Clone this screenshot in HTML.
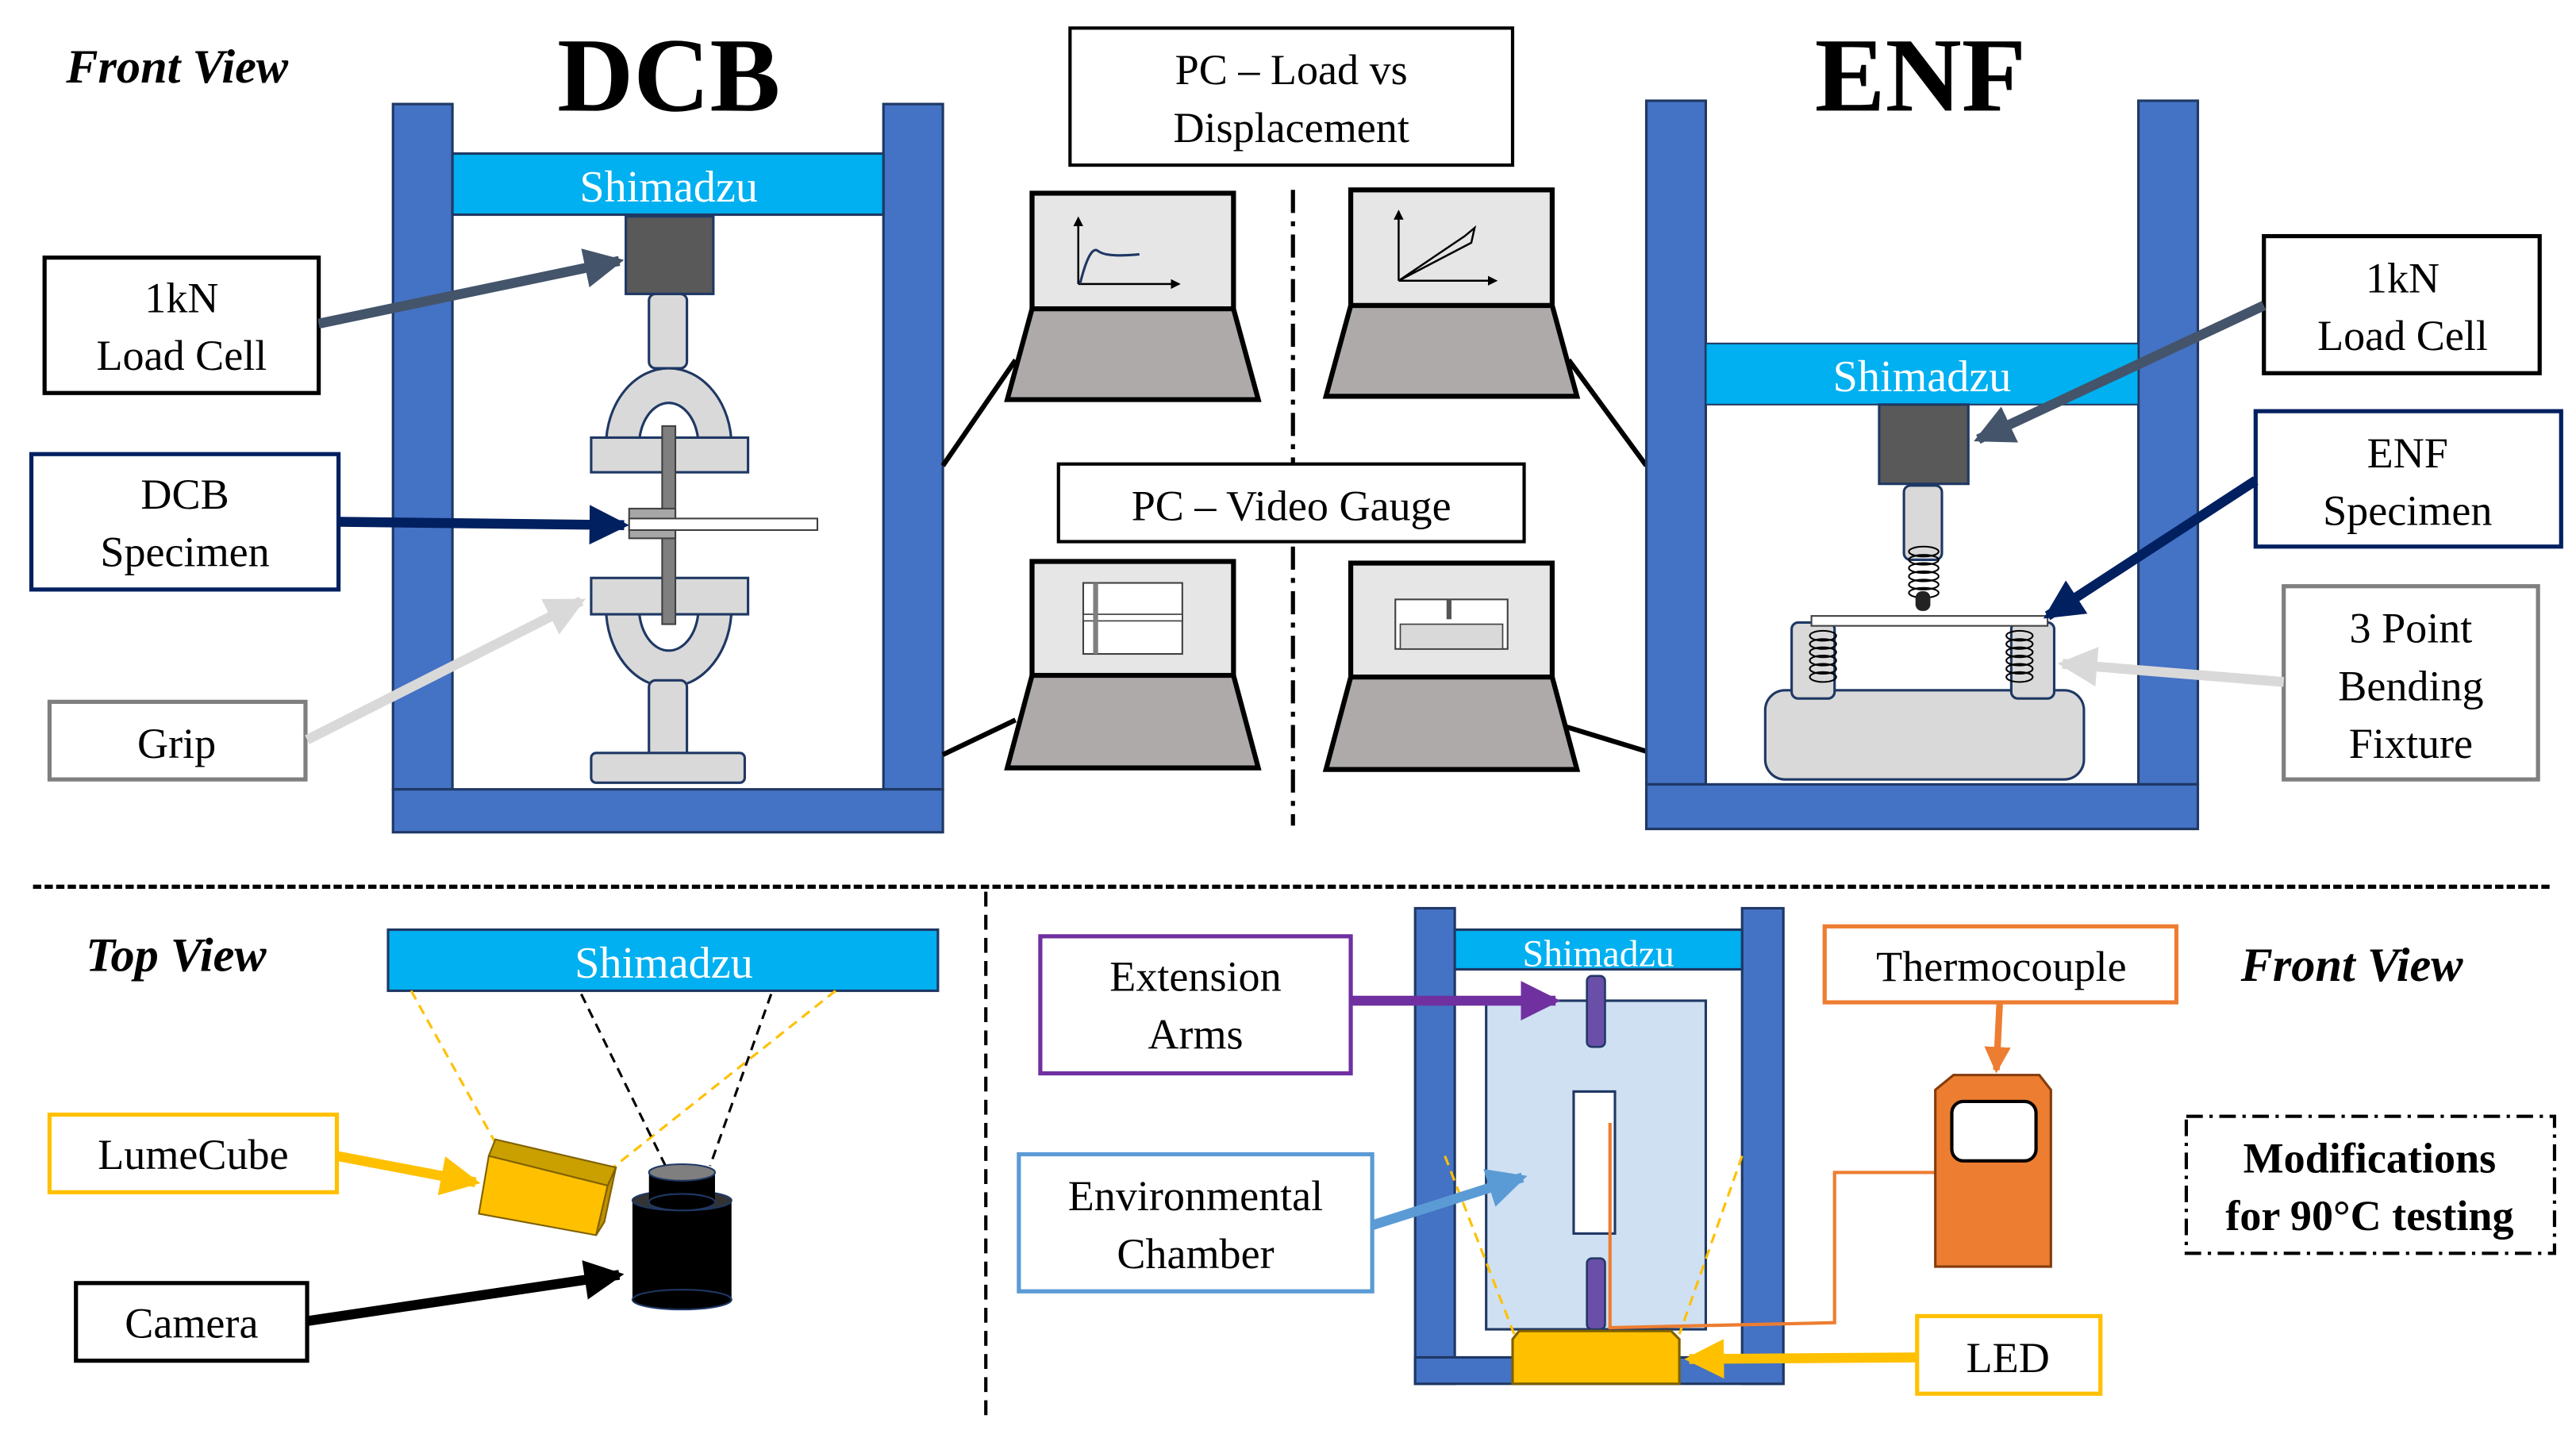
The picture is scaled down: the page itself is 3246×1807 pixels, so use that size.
<!DOCTYPE html>
<html><head><meta charset="utf-8"><style>
html,body{margin:0;padding:0;background:#fff;}
svg{display:block;}
text{font-family:"Liberation Serif",serif;}
</style></head><body>
<svg width="3246" height="1807" viewBox="0 0 1560 868.4" preserveAspectRatio="none" xmlns="http://www.w3.org/2000/svg">
<defs>
<marker id="aS" markerWidth="4" markerHeight="4" refX="3.5" refY="2" orient="auto" markerUnits="strokeWidth"><path d="M0,0L4,2L0,4z" fill="#44546A"/></marker>
<marker id="aN" markerWidth="4" markerHeight="4" refX="3.5" refY="2" orient="auto" markerUnits="strokeWidth"><path d="M0,0L4,2L0,4z" fill="#002060"/></marker>
<marker id="aG" markerWidth="4" markerHeight="4" refX="3.5" refY="2" orient="auto" markerUnits="strokeWidth"><path d="M0,0L4,2L0,4z" fill="#D9D9D9"/></marker>
<marker id="aY" markerWidth="4" markerHeight="4" refX="3.5" refY="2" orient="auto" markerUnits="strokeWidth"><path d="M0,0L4,2L0,4z" fill="#FFC000"/></marker>
<marker id="aK" markerWidth="4" markerHeight="4" refX="3.5" refY="2" orient="auto" markerUnits="strokeWidth"><path d="M0,0L4,2L0,4z" fill="#000"/></marker>
<marker id="aP" markerWidth="4" markerHeight="4" refX="3.5" refY="2" orient="auto" markerUnits="strokeWidth"><path d="M0,0L4,2L0,4z" fill="#7030A0"/></marker>
<marker id="aB" markerWidth="4" markerHeight="4" refX="3.5" refY="2" orient="auto" markerUnits="strokeWidth"><path d="M0,0L4,2L0,4z" fill="#5B9BD5"/></marker>
<marker id="aO" markerWidth="4" markerHeight="4" refX="3.5" refY="2" orient="auto" markerUnits="strokeWidth"><path d="M0,0L4,2L0,4z" fill="#ED7D31"/></marker>
<marker id="sm" markerWidth="6" markerHeight="6" refX="5" refY="3" orient="auto" markerUnits="userSpaceOnUse"><path d="M0,0L6,3L0,6z" fill="#000"/></marker>
</defs>

<text x="40" y="50" font-size="29" font-weight="bold" font-style="italic">Front View</text>
<text x="405" y="67" font-size="64" font-weight="bold" text-anchor="middle">DCB</text>
<text x="1163" y="67" font-size="64" font-weight="bold" text-anchor="middle">ENF</text>

<g fill="#4472C4" stroke="#1F3864" stroke-width="1.5">
<rect x="238" y="63" width="36" height="415"/>
<rect x="535" y="63" width="36" height="415"/>
<rect x="238" y="478" width="333" height="26"/>
</g>
<rect x="274" y="93" width="261" height="37" fill="#00B0F0" stroke="#1F3864" stroke-width="1.5"/>
<text x="405" y="122" font-size="27" fill="#fff" text-anchor="middle">Shimadzu</text>
<rect x="379" y="131" width="53" height="47" fill="#595959" stroke="#1F3864" stroke-width="1.5"/>
<g fill="#D9D9D9" stroke="#1F3864" stroke-width="1.5">
<rect x="393" y="178" width="23" height="45" rx="4"/>
<path d="M367,270 A38,47 0 0 1 443,270 L423,270 A18,26 0 0 0 387,270 Z"/>
<rect x="358" y="265" width="95" height="21"/>
<path d="M367,368 A38,48 0 0 0 443,368 L423,368 A18,26 0 0 1 387,368 Z"/>
<rect x="358" y="350" width="95" height="22"/>
<rect x="393" y="412" width="23" height="56" rx="4"/>
<rect x="358" y="456" width="93" height="18" rx="3"/>
</g>
<rect x="401" y="258" width="8" height="120" fill="#7F7F7F" stroke="#404040" stroke-width="1"/>
<rect x="381" y="308" width="28" height="18" fill="#A6A6A6" stroke="#404040" stroke-width="1"/>
<rect x="381" y="314" width="114" height="7" fill="#fff" stroke="#404040" stroke-width="1"/>

<g fill="#fff" stroke-width="2.5">
<rect x="27" y="156" width="166" height="82" stroke="#000"/>
<rect x="19" y="275" width="186" height="82" stroke="#002060"/>
<rect x="30" y="425" width="155" height="47" stroke="#7F7F7F"/>
</g>
<g font-size="26" text-anchor="middle">
<text x="110" y="189">1kN</text><text x="110" y="224">Load Cell</text>
<text x="112" y="308">DCB</text><text x="112" y="343">Specimen</text>
<text x="107" y="459">Grip</text>
</g>
<line x1="193" y1="196" x2="375" y2="158" stroke="#44546A" stroke-width="6" marker-end="url(#aS)"/>
<line x1="205" y1="316" x2="378" y2="318" stroke="#002060" stroke-width="6" marker-end="url(#aN)"/>
<line x1="186" y1="448" x2="352" y2="364" stroke="#D9D9D9" stroke-width="6" marker-end="url(#aG)"/>

<rect x="648" y="17" width="268" height="83" fill="#fff" stroke="#000" stroke-width="2"/>
<text x="782" y="51" font-size="26" text-anchor="middle">PC – Load vs</text>
<text x="782" y="86" font-size="26" text-anchor="middle">Displacement</text>
<line x1="783" y1="115" x2="783" y2="500" stroke="#000" stroke-width="2.5" stroke-dasharray="14,5,3,5"/>
<rect x="641" y="281" width="282" height="47" fill="#fff" stroke="#000" stroke-width="2"/>
<text x="782" y="315" font-size="26" text-anchor="middle">PC – Video Gauge</text>

<g stroke="#000" stroke-width="3">
<line x1="615" y1="218" x2="571" y2="282"/>
<line x1="615" y1="436" x2="571" y2="457"/>
<line x1="950" y1="218" x2="997" y2="282"/>
<line x1="948" y1="440" x2="997" y2="455"/>
<rect x="625" y="117" width="122" height="70" fill="#E7E6E6"/>
<path d="M625,187 L747,187 L762,242 L610,242 Z" fill="#AEAAAA"/>
<rect x="818" y="115" width="122" height="70" fill="#E7E6E6"/>
<path d="M818,185 L940,185 L955,240 L803,240 Z" fill="#AEAAAA"/>
<rect x="625" y="340" width="122" height="69" fill="#E7E6E6"/>
<path d="M625,409 L747,409 L762,465 L610,465 Z" fill="#AEAAAA"/>
<rect x="818" y="341" width="122" height="69" fill="#E7E6E6"/>
<path d="M818,410 L940,410 L955,466 L803,466 Z" fill="#AEAAAA"/>
</g>
<g stroke="#000" stroke-width="1.2" fill="none">
<line x1="653" y1="172" x2="653" y2="132" marker-end="url(#sm)"/>
<line x1="653" y1="172" x2="714" y2="172" marker-end="url(#sm)"/>
<line x1="847" y1="170" x2="847" y2="128" marker-end="url(#sm)"/>
<line x1="847" y1="170" x2="906" y2="170" marker-end="url(#sm)"/>
<path d="M847,170 L887,143 L893,138 L891,147 Z"/>
</g>
<path d="M654,172 Q660,148 665,152 Q670,156 690,154" stroke="#1F3864" stroke-width="1.5" fill="none"/>
<rect x="656" y="353" width="60" height="43" fill="#fff" stroke="#404040" stroke-width="1"/>
<rect x="656" y="372" width="60" height="4" fill="#fff" stroke="#404040" stroke-width="0.8"/>
<rect x="662" y="353" width="3" height="43" fill="#7F7F7F"/>
<rect x="845" y="363" width="68" height="30" fill="#fff" stroke="#404040" stroke-width="1"/>
<rect x="848" y="378" width="62" height="15" fill="#D9D9D9" stroke="#404040" stroke-width="0.8"/>
<rect x="876" y="363" width="3" height="12" fill="#555"/>

<g fill="#4472C4" stroke="#1F3864" stroke-width="1.5">
<rect x="997" y="61" width="36" height="414"/>
<rect x="1295" y="61" width="36" height="414"/>
<rect x="997" y="475" width="334" height="27"/>
</g>
<rect x="1033" y="208" width="262" height="37" fill="#00B0F0" stroke="#1F3864" stroke-width="1"/>
<text x="1164" y="237" font-size="27" fill="#fff" text-anchor="middle">Shimadzu</text>
<rect x="1138" y="245" width="54" height="48" fill="#595959" stroke="#1F3864" stroke-width="1.5"/>
<rect x="1153" y="294" width="23" height="45" rx="4" fill="#D9D9D9" stroke="#1F3864" stroke-width="1.5"/>
<g fill="none" stroke="#000" stroke-width="1">
<ellipse cx="1165" cy="334" rx="9" ry="3"/><ellipse cx="1165" cy="339" rx="9" ry="3"/><ellipse cx="1165" cy="344" rx="9" ry="3"/><ellipse cx="1165" cy="349" rx="9" ry="3"/><ellipse cx="1165" cy="354" rx="9" ry="3"/><ellipse cx="1165" cy="359" rx="9" ry="3"/>
</g>
<rect x="1160" y="358" width="9" height="12" rx="4" fill="#222"/>
<rect x="1069" y="418" width="193" height="54" rx="12" fill="#D9D9D9" stroke="#1F3864" stroke-width="1.5"/>
<rect x="1085" y="377" width="26" height="46" rx="4" fill="#D9D9D9" stroke="#1F3864" stroke-width="1.5"/>
<rect x="1218" y="377" width="26" height="46" rx="4" fill="#D9D9D9" stroke="#1F3864" stroke-width="1.5"/>
<rect x="1097" y="373" width="143" height="6" fill="#fff" stroke="#404040" stroke-width="1"/>
<g fill="none" stroke="#000" stroke-width="1">
<ellipse cx="1104" cy="385" rx="8" ry="3"/><ellipse cx="1104" cy="390" rx="8" ry="3"/><ellipse cx="1104" cy="395" rx="8" ry="3"/><ellipse cx="1104" cy="400" rx="8" ry="3"/><ellipse cx="1104" cy="405" rx="8" ry="3"/><ellipse cx="1104" cy="410" rx="8" ry="3"/>
<ellipse cx="1223" cy="385" rx="8" ry="3"/><ellipse cx="1223" cy="390" rx="8" ry="3"/><ellipse cx="1223" cy="395" rx="8" ry="3"/><ellipse cx="1223" cy="400" rx="8" ry="3"/><ellipse cx="1223" cy="405" rx="8" ry="3"/><ellipse cx="1223" cy="410" rx="8" ry="3"/>
</g>

<g fill="#fff" stroke-width="2.5">
<rect x="1371" y="143" width="167" height="83" stroke="#000"/>
<rect x="1366" y="249" width="185" height="82" stroke="#002060"/>
<rect x="1383" y="355" width="154" height="117" stroke="#7F7F7F"/>
</g>
<g font-size="26" text-anchor="middle">
<text x="1455" y="177">1kN</text><text x="1455" y="212">Load Cell</text>
<text x="1458" y="283">ENF</text><text x="1458" y="318">Specimen</text>
<text x="1460" y="389">3 Point</text><text x="1460" y="424">Bending</text><text x="1460" y="459">Fixture</text>
</g>
<line x1="1371" y1="185" x2="1198" y2="266" stroke="#44546A" stroke-width="6" marker-end="url(#aS)"/>
<line x1="1366" y1="291" x2="1240" y2="373" stroke="#002060" stroke-width="6" marker-end="url(#aN)"/>
<line x1="1383" y1="413" x2="1249" y2="402" stroke="#D9D9D9" stroke-width="6" marker-end="url(#aG)"/>

<line x1="20" y1="537" x2="1545" y2="537" stroke="#000" stroke-width="2.5" stroke-dasharray="5,2"/>
<line x1="597" y1="540" x2="597" y2="860" stroke="#000" stroke-width="2" stroke-dasharray="9,5"/>

<text x="52" y="588" font-size="29" font-weight="bold" font-style="italic">Top View</text>
<rect x="235" y="563" width="333" height="37" fill="#00B0F0" stroke="#1F3864" stroke-width="1.5"/>
<text x="402" y="592" font-size="27" fill="#fff" text-anchor="middle">Shimadzu</text>
<g stroke-width="1.5" fill="none" stroke-dasharray="6,4">
<line x1="249" y1="600" x2="300" y2="692" stroke="#FFC000"/>
<line x1="506" y1="600" x2="370" y2="708" stroke="#FFC000"/>
<line x1="352" y1="602" x2="403" y2="706" stroke="#000"/>
<line x1="467" y1="602" x2="430" y2="706" stroke="#000"/>
</g>
<path d="M300,690 L373,707 L368,718 L296,700 Z" fill="#C9A000" stroke="#7F6000" stroke-width="1"/>
<path d="M296,700 L368,718 L361,748 L290,735 Z" fill="#FFC000" stroke="#7F6000" stroke-width="1"/>
<path d="M368,718 L373,707 L366,740 L361,748 Z" fill="#BF9000" stroke="#7F6000" stroke-width="1"/>
<rect x="383" y="727" width="60" height="60" fill="#000"/>
<ellipse cx="413" cy="787" rx="30" ry="6" fill="#000" stroke="#1F3864"/>
<ellipse cx="413" cy="727" rx="30" ry="6" fill="#333" stroke="#1F3864"/>
<rect x="393" y="710" width="40" height="18" fill="#000"/>
<ellipse cx="413" cy="728" rx="20" ry="5" fill="#000" stroke="#1F3864"/>
<ellipse cx="413" cy="710" rx="20" ry="5" fill="#7F7F7F" stroke="#1F3864"/>
<g fill="#fff" stroke-width="2.5">
<rect x="30" y="675" width="174" height="47" stroke="#FFC000"/>
<rect x="46" y="777" width="140" height="47" stroke="#000"/>
</g>
<text x="117" y="708" font-size="26" text-anchor="middle">LumeCube</text>
<text x="116" y="810" font-size="26" text-anchor="middle">Camera</text>
<line x1="204" y1="700" x2="288" y2="716" stroke="#FFC000" stroke-width="6" marker-end="url(#aY)"/>
<line x1="186" y1="800" x2="375" y2="772" stroke="#000" stroke-width="6" marker-end="url(#aK)"/>

<g fill="#4472C4" stroke="#1F3864" stroke-width="1.5">
<rect x="857" y="550" width="24" height="288"/>
<rect x="1055" y="550" width="25" height="288"/>
<rect x="857" y="822" width="223" height="16"/>
</g>
<rect x="881" y="563" width="174" height="24" fill="#00B0F0" stroke="#1F3864" stroke-width="1.5"/>
<text x="968" y="585" font-size="23" fill="#fff" text-anchor="middle">Shimadzu</text>
<rect x="900" y="606" width="133" height="199" fill="#CFE0F2" stroke="#1F3864" stroke-width="1.5"/>
<rect x="953" y="661" width="25" height="86" fill="#fff" stroke="#1F3864" stroke-width="1.5"/>
<rect x="961" y="591" width="11" height="43" rx="3" fill="#6A4FA8" stroke="#1F3864" stroke-width="1.2"/>
<rect x="961" y="762" width="11" height="43" rx="3" fill="#6A4FA8" stroke="#1F3864" stroke-width="1.2"/>
<g stroke-width="1.5" fill="none" stroke="#FFC000" stroke-dasharray="6,4">
<line x1="875" y1="700" x2="917" y2="808"/>
<line x1="1055" y1="700" x2="1017" y2="808"/>
</g>
<path d="M920,806 L1012,806 L1017,811 L1017,838 L916,838 L916,811 Z" fill="#FFC000" stroke="#7F6000" stroke-width="1.5"/>
<path d="M975,680 L975,804 L1111,801 L1111,710 L1172,710" fill="none" stroke="#ED7D31" stroke-width="2"/>
<path d="M1183,651 L1235,651 L1242,660 L1242,767 L1172,767 L1172,660 Z" fill="#ED7D31" stroke="#843C0C" stroke-width="1.5"/>
<rect x="1182" y="667" width="51" height="36" rx="7" fill="#fff" stroke="#000" stroke-width="2"/>

<g fill="#fff" stroke-width="2.5">
<rect x="630" y="567" width="188" height="83" stroke="#7030A0"/>
<rect x="617" y="699" width="214" height="83" stroke="#5B9BD5"/>
<rect x="1105" y="561" width="213" height="46" stroke="#ED7D31"/>
<rect x="1161" y="797" width="111" height="47" stroke="#FFC000"/>
</g>
<rect x="1324" y="676" width="223" height="83" fill="#fff" stroke="#000" stroke-width="2" stroke-dasharray="10,4,2,4"/>
<g font-size="26" text-anchor="middle">
<text x="724" y="600">Extension</text><text x="724" y="635">Arms</text>
<text x="724" y="733">Environmental</text><text x="724" y="768">Chamber</text>
<text x="1212" y="594">Thermocouple</text>
<text x="1216" y="831">LED</text>
<text x="1435" y="710" font-weight="bold">Modifications</text>
<text x="1435" y="745" font-weight="bold">for 90°C testing</text>
</g>
<text x="1357" y="594" font-size="29" font-weight="bold" font-style="italic">Front View</text>
<line x1="818" y1="606" x2="942" y2="606" stroke="#7030A0" stroke-width="6" marker-end="url(#aP)"/>
<line x1="831" y1="742" x2="922" y2="713" stroke="#5B9BD5" stroke-width="6" marker-end="url(#aB)"/>
<line x1="1211" y1="607" x2="1209" y2="648" stroke="#ED7D31" stroke-width="4" marker-end="url(#aO)"/>
<line x1="1161" y1="822" x2="1023" y2="823" stroke="#FFC000" stroke-width="6" marker-end="url(#aY)"/>
</svg>
</body></html>
